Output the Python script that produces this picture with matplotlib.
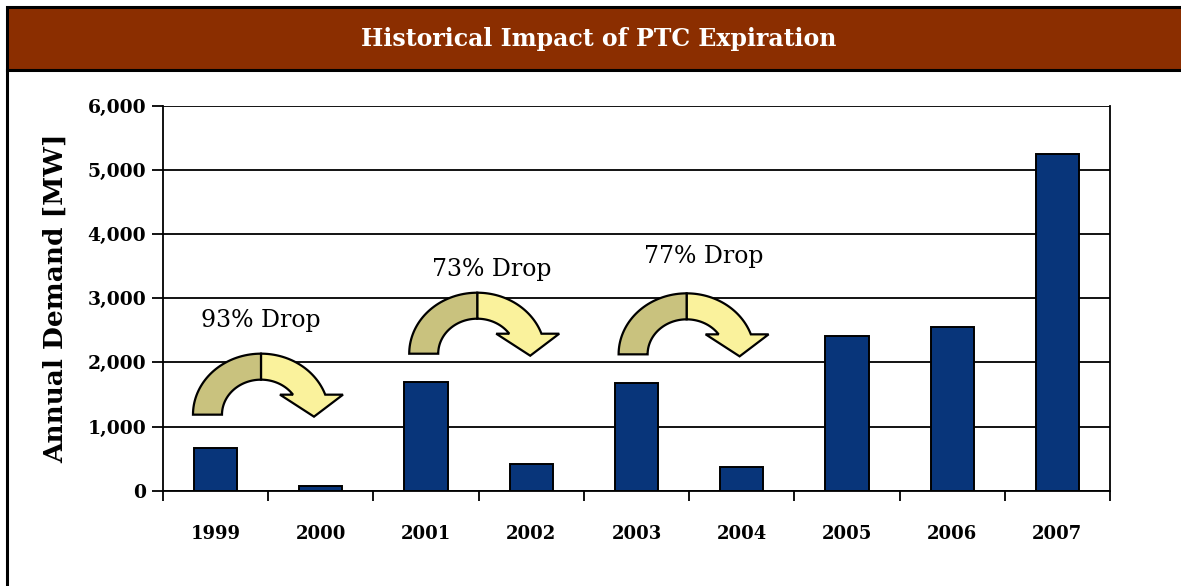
import numpy as np
import matplotlib
matplotlib.use("Agg")
import matplotlib.pyplot as plt
from matplotlib.patches import Polygon, Rectangle
from matplotlib import transforms

years = ["1999", "2000", "2001", "2002", "2003", "2004", "2005", "2006", "2007"]
demand = [660, 75, 1700, 420, 1680, 375, 2415, 2545, 5250]
drop_labels = ["93% Drop", "73% Drop", "77% Drop"]

plt.rcParams["font.family"] = ["DejaVu Serif"]

fig = plt.figure(figsize=(11.81, 5.86), dpi=100)

# title band and frame
fig.patches.append(Rectangle((7 / 1181, 1 - 70 / 586), 1.0, 63 / 586, transform=fig.transFigure,
                             facecolor="#8B2E00", edgecolor="black", linewidth=2.2))
fig.lines.append(plt.Line2D([7 / 1181, 7 / 1181], [0, 1 - 70 / 586], transform=fig.transFigure,
                            color="black", linewidth=2.2))
fig.text(0.507, 1 - 39 / 586, "Historical Impact of PTC Expiration", color="white",
         fontsize=17, fontweight="semibold", ha="center", va="center")

ax = fig.add_axes([163 / 1181, 95.3 / 586, 947 / 1181, 385 / 586])
x = np.arange(len(years))
ax.bar(x, demand, width=0.41, color="#08357A", edgecolor="black", linewidth=1.4, zorder=3)

ax.set_xlim(-0.5, len(years) - 0.5)
ax.set_ylim(0, 6000)
ax.set_yticks(np.arange(0, 6001, 1000))
ax.set_yticklabels([f"{v:,}" for v in range(0, 6001, 1000)], fontsize=13.5, fontweight="bold")
ax.yaxis.grid(True, color="black", linewidth=1.3, zorder=0)
ax.set_axisbelow(True)
ax.set_xticks(x)
ax.set_xticklabels(years, fontsize=13, fontweight="bold")
ax.tick_params(axis="x", length=0, pad=24.5)
ax.set_xticks(np.arange(-0.5, len(years)), minor=True)
ax.tick_params(axis="x", which="minor", length=7, width=1.3, direction="out")
ax.tick_params(axis="y", length=8, width=1.3, direction="out", pad=4)
ax.spines["top"].set_visible(False)
for s in ["left", "right", "bottom"]:
    ax.spines[s].set_linewidth(1.3)
ax.set_ylabel("Annual Demand [MW]", fontsize=19, fontweight="bold", labelpad=14)

# curved arrows, shape in pixels relative to left foot
def arrow_shape(n=40):
    rxo, ryo, rxi, ryi, cx = 68, 61, 39, 35, 68
    t1 = np.linspace(np.pi, np.pi / 2, n)
    t2 = np.linspace(np.pi / 2, np.arcsin(20 / ryo), n)
    t2i = np.linspace(np.arcsin(20 / ryi), np.pi / 2, n)
    t1i = np.linspace(np.pi / 2, np.pi, n)
    left = np.vstack([
        np.c_[cx + rxo * np.cos(t1), ryo * np.sin(t1)],
        np.c_[cx + rxi * np.cos(t1i), ryi * np.sin(t1i)],
    ])
    right = np.vstack([
        np.c_[cx + rxo * np.cos(t2), ryo * np.sin(t2)],
        [[150, 20], [121, -2], [87, 20]],
        np.c_[cx + rxi * np.cos(t2i), ryi * np.sin(t2i)],
    ])
    return left / 100, right / 100

arrow_pos = [(-0.215, 1185), (1.84, 2135), (3.83, 2125)]
label_pos = [(0.43, 2660), (2.62, 3440), (4.64, 3645)]
left, right = arrow_shape()
for (ax_x, ax_y), (lx, ly), lab in zip(arrow_pos, label_pos, drop_labels):
    tr = fig.dpi_scale_trans + transforms.ScaledTranslation(ax_x, ax_y, ax.transData)
    ax.add_patch(Polygon(right, closed=True, facecolor="#FAF29C", edgecolor="black",
                         linewidth=1.6, transform=tr, zorder=4, clip_on=False))
    ax.add_patch(Polygon(left, closed=True, facecolor="#C9C27E", edgecolor="black",
                         linewidth=1.6, transform=tr, zorder=5, clip_on=False))
    ax.text(lx, ly, lab, fontsize=17, ha="center", va="center", zorder=6)

fig.savefig("out.png", dpi=100)
